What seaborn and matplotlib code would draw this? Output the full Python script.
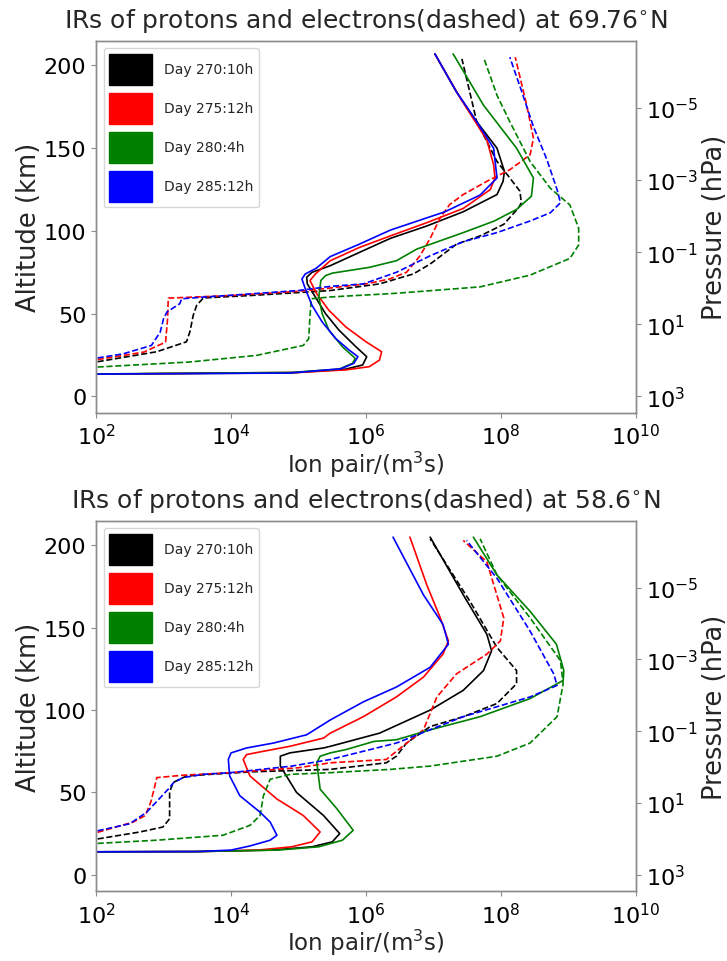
import matplotlib
matplotlib.use("Agg")
import numpy as np
import pandas as pd
import matplotlib.pyplot as plt
import seaborn as sns
from matplotlib.patches import Patch
from matplotlib.ticker import FixedLocator, NullLocator

# ---------------- data (altitude in km, log10 of ion pair rate per m^3 s) -------------
DAYS = ["Day 270:10h", "Day 275:12h", "Day 280:4h", "Day 285:12h"]
COLORS = ["black", "red", "green", "blue"]
TITLES = ["IRs of protons and electrons(dashed) at 69.76$^{\\circ}$N",
          "IRs of protons and electrons(dashed) at 58.6$^{\\circ}$N"]
XTICKS = [1e2, 1e4, 1e6, 1e8, 1e10]
YTICKS = [0, 50, 100, 150, 200]
PTICKS = [1e-5, 1e-3, 1e-1, 1e1, 1e3]

# ---- 69.76 N, protons (solid)
N69_P270_ALT = [13.3, 13.6, 14.2, 16.5, 19, 24, 30, 40, 50, 60, 68, 72, 75, 79, 87, 95.5, 103, 111.6, 122, 130, 136, 150, 166, 184, 207]
N69_P270_LOG = [1.5, 2.4, 4.9, 5.7, 5.95, 6.01, 5.85, 5.6, 5.4, 5.25, 5.13, 5.12, 5.2, 5.47, 5.9, 6.36, 6.9, 7.44, 7.94, 8.03, 8.05, 7.94, 7.64, 7.34, 7.02]
N69_P275_ALT = [13.3, 13.6, 14.5, 16, 18, 22, 27, 33, 42, 52, 62, 70, 74, 82, 90, 97, 105, 113.6, 125, 132, 140, 155, 180, 207]
N69_P275_LOG = [1.5, 2.4, 5.0, 5.7, 6.05, 6.2, 6.23, 6.0, 5.7, 5.45, 5.27, 5.17, 5.25, 5.47, 5.9, 6.36, 6.9, 7.44, 7.84, 7.91, 7.89, 7.79, 7.4, 7.02]
N69_P280_ALT = [13.4, 13.7, 14.5, 16.5, 20, 23, 30, 40, 50, 60, 70, 73, 74.5, 78, 82, 89, 99, 106, 113, 121, 132, 150, 176, 207]
N69_P280_LOG = [1.5, 2.4, 4.9, 5.6, 5.8, 5.84, 5.65, 5.45, 5.35, 5.3, 5.33, 5.4, 5.5, 6.05, 6.45, 6.75, 7.44, 7.9, 8.23, 8.45, 8.48, 8.23, 7.74, 7.29]
N69_P285_ALT = [13.3, 13.6, 14.1, 16.7, 20, 24, 28, 35, 45, 55, 65, 71, 74, 77.4, 84.5, 92, 100.5, 111.6, 121.7, 132, 150, 166, 184, 207]
N69_P285_LOG = [1.5, 2.4, 4.85, 5.63, 5.82, 5.88, 5.75, 5.55, 5.35, 5.2, 5.1, 5.05, 5.1, 5.26, 5.47, 5.9, 6.36, 7.17, 7.69, 7.94, 7.89, 7.64, 7.34, 7.02]

# ---- 69.76 N, electrons (dashed)
N69_E270_ALT = [20.2, 20.8, 27, 33, 39, 49, 55, 59.5, 61, 63, 64, 68, 74, 80, 92, 97, 104, 114, 117, 124, 132, 142, 166, 192, 204]
N69_E270_LOG = [1.5, 2.0, 2.9, 3.34, 3.39, 3.44, 3.49, 3.59, 4.3, 5.1, 5.47, 6.2, 6.7, 6.95, 7.34, 7.69, 8.04, 8.26, 8.3, 8.28, 8.13, 7.94, 7.64, 7.49, 7.42]
N69_E275_ALT = [21.5, 22.1, 26.8, 32.8, 46.9, 59.4, 61, 63.5, 65.5, 68, 71, 75, 85, 95.5, 108, 116, 122, 130, 137, 146, 156, 176, 205]
N69_E275_LOG = [1.5, 2.0, 2.71, 3.03, 3.06, 3.07, 4.0, 5.0, 5.47, 6.0, 6.35, 6.6, 6.8, 6.95, 7.1, 7.24, 7.44, 7.79, 8.13, 8.43, 8.48, 8.38, 8.21]
N69_E280_ALT = [17.2, 17.7, 20.8, 24.8, 30.8, 34.8, 49, 59, 60.1, 62.1, 63.1, 66.2, 73.3, 83.4, 91.5, 101.6, 115.7, 125.8, 142, 166, 182, 205]
N69_E280_LOG = [1.5, 2.0, 3.39, 4.38, 5.07, 5.15, 5.17, 5.19, 5.47, 6.36, 6.7, 7.69, 8.43, 9.02, 9.15, 9.15, 9.02, 8.73, 8.43, 8.13, 7.94, 7.74]
N69_E285_ALT = [22.5, 23.1, 25.7, 30.8, 38.8, 46.9, 51, 56, 59, 60, 62, 64, 66.5, 68, 75, 85, 93.5, 99, 106, 111, 117, 125, 143, 163, 185, 205]
N69_E285_LOG = [1.5, 2.0, 2.4, 2.82, 2.95, 3.0, 3.05, 3.24, 3.27, 3.59, 4.3, 5.0, 5.47, 5.96, 6.45, 6.95, 7.44, 7.94, 8.43, 8.73, 8.88, 8.83, 8.68, 8.48, 8.3, 8.13]

# ---- 58.6 N, protons (solid)
N58_P270_ALT = [13.9, 14.1, 15, 17, 20, 25, 36, 50, 66, 72, 74, 77, 78, 86, 100, 112, 124, 136, 146, 170, 205]
N58_P270_LOG = [1.5, 3.5, 4.6, 5.2, 5.5, 5.61, 5.37, 4.97, 4.73, 4.73, 4.87, 5.37, 5.47, 6.2, 6.95, 7.44, 7.74, 7.86, 7.79, 7.44, 6.95]
N58_P275_ALT = [13.9, 14.1, 15, 17, 20, 26, 36, 46, 60, 70, 73, 75, 78, 83, 86, 96, 108, 120, 134, 142, 156, 176, 205]
N58_P275_LOG = [1.5, 3.5, 4.4, 4.9, 5.2, 5.32, 5.07, 4.68, 4.28, 4.18, 4.23, 4.48, 4.87, 5.37, 5.47, 5.96, 6.45, 6.85, 7.14, 7.22, 7.1, 6.9, 6.65]
N58_P280_ALT = [13.9, 14.1, 15, 17, 21, 27, 40, 52, 68, 72, 74, 76, 81, 82, 88, 96, 107, 118, 124, 140, 160, 182, 205]
N58_P280_LOG = [1.5, 3.5, 4.7, 5.3, 5.65, 5.81, 5.57, 5.32, 5.27, 5.32, 5.47, 5.7, 6.12, 6.45, 6.95, 7.69, 8.43, 8.92, 8.93, 8.82, 8.43, 7.94, 7.59]
N58_P285_ALT = [13.9, 14.1, 15, 17.5, 21, 24, 32, 38, 48, 60, 70, 74, 77, 80, 85, 94, 105, 114, 126, 140, 152, 170, 205]
N58_P285_LOG = [1.5, 3.5, 4.0, 4.28, 4.58, 4.68, 4.58, 4.43, 4.13, 3.98, 3.96, 4.0, 4.23, 4.63, 5.12, 5.47, 5.96, 6.45, 6.95, 7.22, 7.14, 6.85, 6.4]

# ---- 58.6 N, electrons (dashed)
N58_E270_ALT = [21, 21.6, 26, 29, 34, 50, 56, 60, 61, 62.5, 64, 68, 72, 80, 90, 96, 104, 116, 124, 138, 166, 204]
N58_E270_LOG = [1.5, 2.0, 2.65, 2.99, 3.09, 3.09, 3.14, 3.34, 3.7, 4.3, 5.47, 6.3, 6.45, 6.6, 6.95, 7.44, 7.94, 8.23, 8.23, 7.94, 7.54, 6.95]
N58_E275_ALT = [25.0, 25.5, 32, 36, 44, 52, 59, 60.5, 62, 65, 68, 70, 75, 88, 108, 122, 134, 142, 156, 190, 203]
N58_E275_LOG = [1.5, 2.0, 2.55, 2.73, 2.81, 2.86, 2.9, 3.3, 3.99, 5.0, 5.47, 6.3, 6.45, 6.85, 7.05, 7.34, 7.79, 7.99, 8.04, 7.79, 7.44]
N58_E280_ALT = [18.5, 19, 21, 24, 30, 36, 48, 58, 61, 62, 64, 66, 72, 80, 96, 116, 130, 156, 182, 204]
N58_E280_LOG = [1.5, 2.0, 2.9, 3.88, 4.28, 4.43, 4.48, 4.58, 4.88, 5.47, 6.36, 6.95, 7.94, 8.43, 8.83, 8.92, 8.88, 8.43, 7.94, 7.69]
N58_E285_ALT = [26, 26.5, 31, 38, 52, 56, 59, 61, 62, 66, 70, 80, 96, 108, 115, 122, 148, 180, 203]
N58_E285_LOG = [1.5, 2.0, 2.5, 2.75, 3.07, 3.15, 3.29, 3.59, 3.99, 4.9, 5.47, 6.45, 7.44, 8.43, 8.83, 8.78, 8.43, 7.94, 7.49]

PANELS = [
    [("proton", N69_P270_ALT, N69_P270_LOG), ("proton", N69_P275_ALT, N69_P275_LOG),
     ("proton", N69_P280_ALT, N69_P280_LOG), ("proton", N69_P285_ALT, N69_P285_LOG),
     ("electron", N69_E270_ALT, N69_E270_LOG), ("electron", N69_E275_ALT, N69_E275_LOG),
     ("electron", N69_E280_ALT, N69_E280_LOG), ("electron", N69_E285_ALT, N69_E285_LOG)],
    [("proton", N58_P270_ALT, N58_P270_LOG), ("proton", N58_P275_ALT, N58_P275_LOG),
     ("proton", N58_P280_ALT, N58_P280_LOG), ("proton", N58_P285_ALT, N58_P285_LOG),
     ("electron", N58_E270_ALT, N58_E270_LOG), ("electron", N58_E275_ALT, N58_E275_LOG),
     ("electron", N58_E280_ALT, N58_E280_LOG), ("electron", N58_E285_ALT, N58_E285_LOG)],
]

# ---------------- style ----------------
sns.set_style("ticks", {"axes.edgecolor": "0.55", "xtick.color": "0.55", "ytick.color": "0.55"})
plt.rcParams["font.family"] = ["DejaVu Sans"]
plt.rcParams["xtick.labelcolor"] = "black"
plt.rcParams["ytick.labelcolor"] = "black"
plt.rcParams["axes.linewidth"] = 1.0

FS_TICK = 16
FS_XLAB = 16.5
FS_YLAB = 18.5
FS_TITLE = 18
H_SCALE = 21.8  # km per decade of pressure
P0 = 1000.0
YLIM = (-10, 215)

fig = plt.figure(figsize=(7.27, 9.62), dpi=100)
axes = [fig.add_axes([0.1321, 0.5697, 0.7428, 0.3870]),
        fig.add_axes([0.1321, 0.0725, 0.7428, 0.3852])]

palette = dict(zip(DAYS, COLORS))
for ax, curves, title in zip(axes, PANELS, TITLES):
    rows = []
    for i, (kind, alts, logs) in enumerate(curves):
        day = DAYS[i % 4]
        for a, lg in zip(alts, logs):
            rows.append({"alt": a, "rate": 10.0 ** lg, "day": day, "kind": kind, "curve": i})
    df = pd.DataFrame(rows)
    sns.lineplot(data=df, x="rate", y="alt", hue="day", style="kind",
                 hue_order=DAYS, style_order=["proton", "electron"],
                 palette=palette, dashes={"proton": "", "electron": (3.7, 1.6)},
                 units="curve", estimator=None, sort=False, legend=False,
                 linewidth=1.2, ax=ax)
    ax.set_xscale("log")
    ax.set_xlim(1e2, 1e10)
    ax.set_ylim(*YLIM)
    ax.xaxis.set_major_locator(FixedLocator(XTICKS))
    ax.xaxis.set_minor_locator(NullLocator())
    ax.set_yticks(YTICKS)
    ax.tick_params(labelsize=FS_TICK)
    ax.tick_params(axis="x", pad=4)
    ax.set_xlabel("Ion pair/(m$^3$s)", fontsize=FS_XLAB, labelpad=0)
    ax.set_ylabel("Altitude (km)", fontsize=FS_YLAB, labelpad=1)
    ax.set_title(title, fontsize=FS_TITLE, pad=10)

    handles = [Patch(facecolor=c, edgecolor=c, label=d) for d, c in zip(DAYS, COLORS)]
    ax.legend(handles=handles, loc="upper left", fontsize=10, frameon=True,
              handlelength=3.1, handleheight=3.05, labelspacing=0.58,
              handletextpad=0.85, borderpad=0.4, borderaxespad=0.55)

    ax2 = ax.twinx()
    ax2.set_yscale("log")
    ax2.set_ylim(P0 * 10 ** (-YLIM[0] / H_SCALE), P0 * 10 ** (-YLIM[1] / H_SCALE))
    ax2.yaxis.set_major_locator(FixedLocator(PTICKS))
    ax2.yaxis.set_minor_locator(NullLocator())
    ax2.tick_params(labelsize=FS_TICK)
    ax2.set_ylabel("Pressure (hPa)", fontsize=FS_YLAB, labelpad=3)

fig.savefig("out.png", dpi=100)
